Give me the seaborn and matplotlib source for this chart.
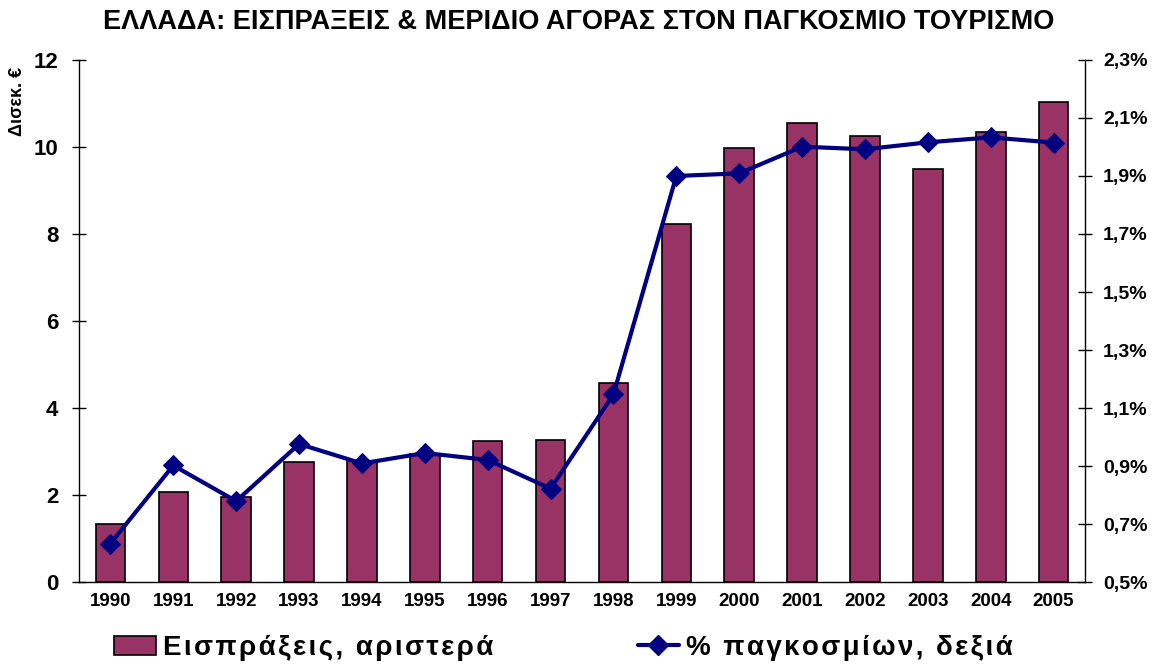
import matplotlib
matplotlib.use("Agg")
import matplotlib.pyplot as plt
import seaborn as sns
import numpy as np
import pandas as pd
from matplotlib.ticker import FuncFormatter, MultipleLocator
from matplotlib.patches import Patch
from matplotlib.lines import Line2D

years = ["1990", "1991", "1992", "1993", "1994", "1995", "1996", "1997",
         "1998", "1999", "2000", "2001", "2002", "2003", "2004", "2005"]
receipts = [1.34, 2.06, 1.96, 2.77, 2.78, 2.94, 3.24, 3.26,
            4.57, 8.22, 9.97, 10.54, 10.25, 9.49, 10.34, 11.03]
world_share = [0.633, 0.902, 0.779, 0.976, 0.909, 0.945, 0.921, 0.822,
               1.147, 1.900, 1.909, 2.001, 1.992, 2.016, 2.033, 2.015]

title = "ΕΛΛΑΔΑ: ΕΙΣΠΡΑΞΕΙΣ & ΜΕΡΙΔΙΟ ΑΓΟΡΑΣ ΣΤΟΝ ΠΑΓΚΟΣΜΙΟ ΤΟΥΡΙΣΜΟ"
ylabel = "Δισεκ. €"
legend_bar = "Εισπράξεις, αριστερά"
legend_line = "% παγκοσμίων, δεξιά"

sns.set_theme(style="white")
plt.rcParams['font.family'] = ['Liberation Sans', 'DejaVu Sans']
plt.rcParams['text.color'] = 'black'
plt.rcParams['xtick.color'] = 'black'
plt.rcParams['ytick.color'] = 'black'
plt.rcParams['xtick.labelcolor'] = 'black'
plt.rcParams['ytick.labelcolor'] = 'black'


def spaced(s):
    return "\u200a".join(s)


df = pd.DataFrame({"year": years, "receipts": receipts, "share": world_share})

fig = plt.figure(figsize=(11.58, 6.66), dpi=100)
ax = fig.add_axes([0.0682, 0.126, 0.937 - 0.0682, 0.910 - 0.126])

bar_color = "#993366"
line_color = "#000080"

sns.barplot(data=df, x="year", y="receipts", ax=ax, color=bar_color,
            width=0.47, edgecolor="black", linewidth=1.2, saturation=1)
ax.set_ylim(0, 12)
ax.set_xlim(-0.5, len(years) - 0.5)
ax.yaxis.set_major_locator(MultipleLocator(2))
ax.set_xlabel("")
ax.set_ylabel("")

ax2 = ax.twinx()
sns.lineplot(x=np.arange(len(years)), y=df["share"], ax=ax2, color=line_color,
             linewidth=3, marker="D", markersize=10, markeredgecolor=line_color)
ax2.set_ylim(0.5, 2.3)
ax2.set_yticks(np.arange(0.5, 2.31, 0.2))
ax2.yaxis.set_major_formatter(FuncFormatter(lambda v, p: f"{v:.1f}".replace(".", ",") + "%"))
ax2.set_ylabel("")
ax2.set_xlim(-0.5, len(years) - 0.5)

for a in (ax, ax2):
    a.spines["top"].set_visible(False)
    for s in ("left", "right", "bottom"):
        a.spines[s].set_color("black")
        a.spines[s].set_linewidth(1.0)
ax.spines["right"].set_visible(False)
ax2.spines["left"].set_visible(False)
ax2.spines["bottom"].set_visible(False)

# x ticks between categories
ax.set_xticks(np.arange(len(years)), labels=years)
ax.set_xticks(np.arange(-0.5, len(years), 1), minor=True)
ax.tick_params(axis="x", which="major", length=0, pad=8, labelsize=13.5)
ax.tick_params(axis="x", which="minor", length=8, direction="inout", color="black", width=1)
for lbl in ax.get_xticklabels():
    lbl.set_fontweight("bold")

ax.tick_params(axis="y", which="major", length=10, direction="inout", color="black",
               width=1, labelsize=16, left=True, pad=10)
for lbl in ax.get_yticklabels():
    lbl.set_fontweight("bold")
ax2.tick_params(axis="y", which="major", length=10, direction="inout", color="black",
                width=1, labelsize=14, right=True, pad=8)
for lbl in ax2.get_yticklabels():
    lbl.set_fontweight("bold")

ax.grid(False)
ax2.grid(False)

fig.text(0.5, 1 - 22 / 666, title, ha="center", va="center", fontsize=19.5, fontweight="bold")
fig.text(18 / 1158, 1 - 101 / 666, ylabel, ha="center", va="center", rotation=90,
         fontsize=13, fontweight="bold")

handles = [Patch(facecolor=bar_color, edgecolor="black", linewidth=1.2),
           Line2D([0], [0], color=line_color, linewidth=3, marker="D", markersize=10)]
leg = fig.legend(handles, [spaced(legend_bar), spaced(legend_line)], loc="center",
                 bbox_to_anchor=(563.5 / 1158, 1 - 648 / 666), ncol=2, frameon=False,
                 prop={"size": 20, "weight": "bold"}, columnspacing=5.2,
                 handlelength=1.5, handletextpad=0.25)

fig.savefig("out.png", dpi=100)
